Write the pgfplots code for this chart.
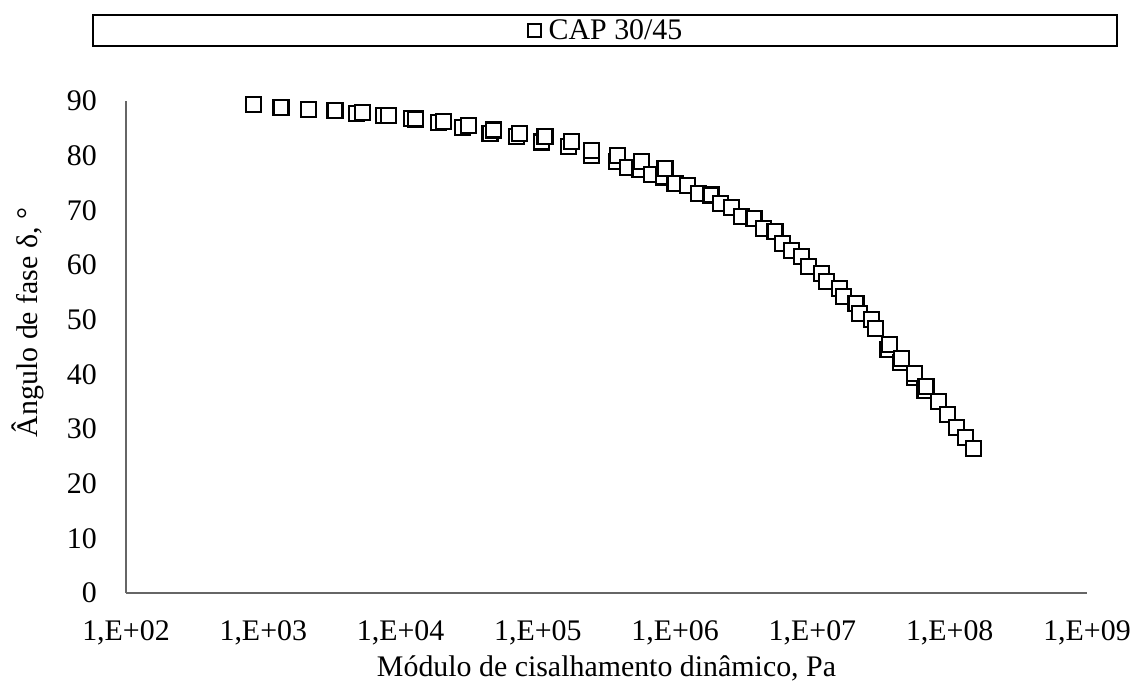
\documentclass[border=0pt]{standalone}
\usepackage{pgfplots}
\pgfplotsset{compat=1.18}
\usepackage{fontspec}
\setmainfont{Liberation Serif}
\begin{document}
\begin{tikzpicture}[font=\fontsize{30}{36}\selectfont]
\useasboundingbox (0,0) rectangle (1138bp,689bp);
\begin{axis}[
  at={(126bp,96bp)}, anchor=south west,
  scale only axis, width=961bp, height=492bp,
  xmode=log, xmin=1e2, xmax=1e9, ymin=0, ymax=90,
  axis x line*=bottom, axis y line*=left,
  axis line style={draw=black!60, line width=1.5bp},
  xtick={1e2,1e3,1e4,1e5,1e6,1e7,1e8,1e9},
  xticklabels={{1,E+02},{1,E+03},{1,E+04},{1,E+05},{1,E+06},{1,E+07},{1,E+08},{1,E+09}},
  ytick={0,10,20,30,40,50,60,70,80,90},
  major tick length=0pt, minor tick num=0,
  tick style={draw=none},
  /pgf/number format/assume math mode=true,
  yticklabel style={inner sep=0pt, xshift=-29bp},
  xticklabel style={inner sep=0pt, yshift=-27bp},
  xlabel={Módulo de cisalhamento dinâmico, Pa},
  ylabel={Ângulo de fase δ, °},
  xlabel style={at={(axis description cs:0.5,-0.153)}, anchor=center},
  ylabel style={at={(axis description cs:-0.102,0.55)}, anchor=center},
  legend style={at={(0.5,1.1433)}, anchor=center, draw=none, fill=none,
    nodes={inner sep=3bp}, font=\fontsize{30}{36}\selectfont},
  legend image code/.code={\draw[mark size=6.5bp, line width=1.8bp, mark options={fill=white}] plot coordinates {(0bp,0bp)};},
  clip=false,
]
\addplot[only marks, mark=square*, mark size=7.5bp, line width=2.1bp,
  mark options={draw=black, fill=white, solid}] table {
x y
845 89.3
1346 88.8
2128 88.5
3327 88.3
4786 87.7
5297 87.9
7482 87.3
8128 87.4
12050 86.8
12940 86.7
18840 86.1
20460 86.2
28440 85.2
31120 85.6
44770 84.1
47320 84.7
70150 83.5
73450 84.1
106700 82.5
112700 83.5
166300 81.6
176200 82.6
246600 80.1
246600 81.0
375000 78.9
378400 80.1
452900 77.9
554600 77.4
570200 78.9
674500 76.5
818400 76.1
843300 77.7
997700 74.9
1239000 74.6
1472000 73.1
1824000 72.8
2138000 71.2
2582000 70.6
3048000 68.8
3750000 68.5
4385000 66.7
5333000 66.1
6067000 64.0
7063000 62.7
8337000 61.5
9311000 59.7
11670000 58.5
12680000 56.9
15670000 55.7
16750000 54.2
20750000 53.0
22180000 51.2
26980000 50.1
28840000 48.4
35500000 44.6
36220000 45.4
43700000 42.2
44670000 42.9
55000000 39.5
55720000 40.2
66100000 37.0
67140000 37.7
82410000 35.0
96610000 32.7
112200000 30.2
131200000 28.4
150000000 26.4
};
\addlegendentry{\hspace{5bp}CAP 30/45}
\draw[line width=1.2bp, black] (axis description cs:-0.0343,1.1118) rectangle (axis description cs:1.0312,1.1748);
\end{axis}
\end{tikzpicture}
\end{document}
